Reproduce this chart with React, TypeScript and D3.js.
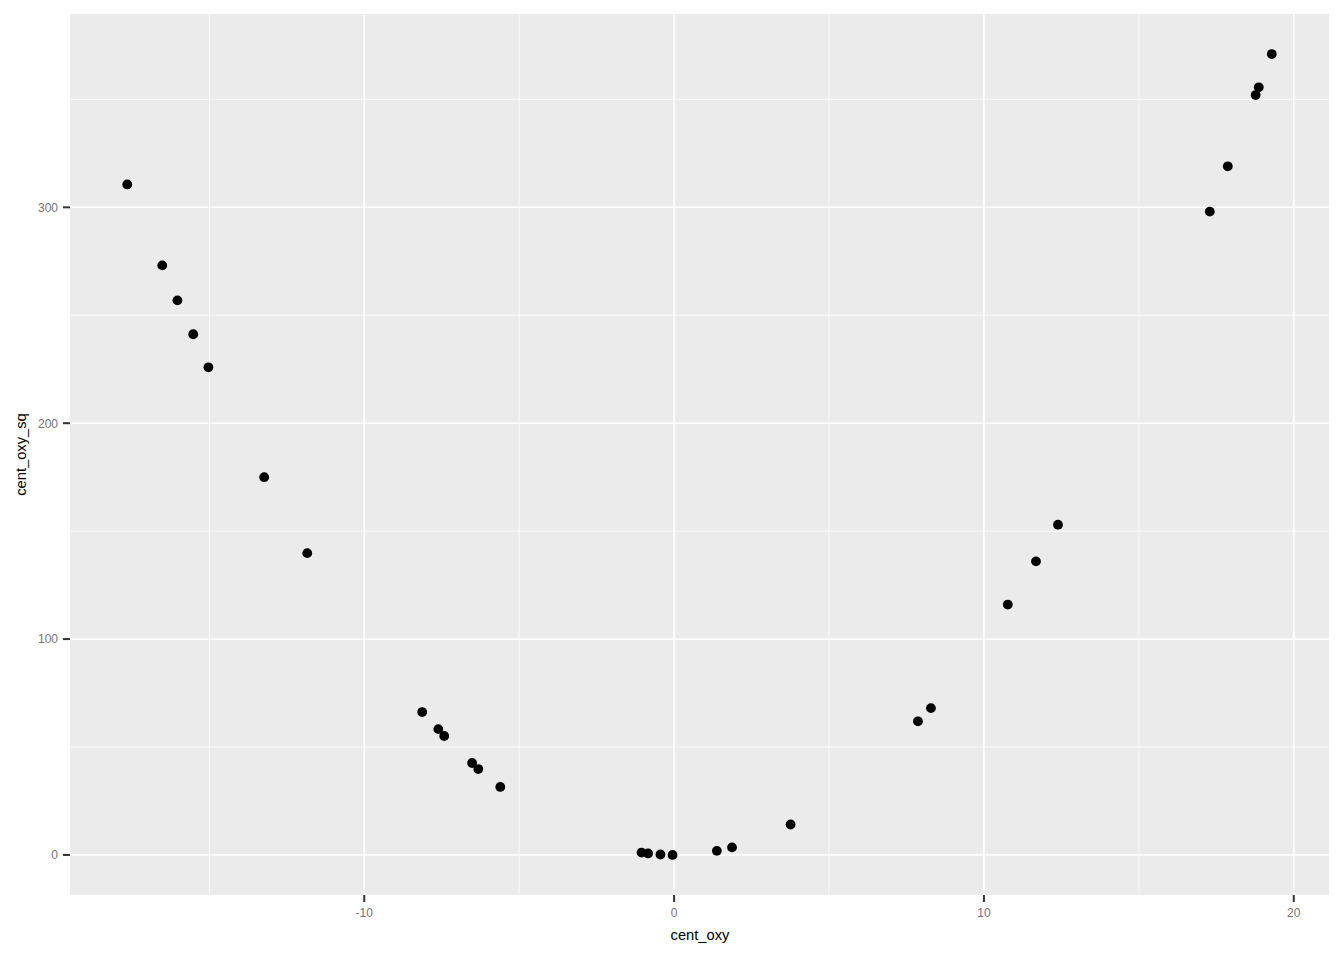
import React from "react";
import * as d3 from "d3";

const centOxy: number[] = [
  -17.65, -16.52, -16.03, -15.52, -15.03, -13.23, -11.84, -8.13, -7.61, -7.42,
  -6.52, -6.32, -5.61, -1.05, -0.84, -0.44, -0.05, 1.38, 1.87, 3.76,
  7.87, 8.29, 10.77, 11.68, 12.39, 17.29, 17.87, 18.77, 18.87, 19.29,
];
const centOxySq: number[] = [
  310.6, 273.1, 256.9, 241.2, 225.9, 175.0, 139.8, 66.2, 58.3, 55.1,
  42.6, 39.8, 31.5, 1.1, 0.7, 0.2, 0.0, 1.9, 3.5, 14.1,
  61.9, 68.0, 116.0, 136.0, 153.0, 298.0, 319.0, 352.0, 355.6, 371.0,
];
const xTicks: number[] = [-10, 0, 10, 20];
const xMinor: number[] = [-15, -5, 5, 15];
const yTicks: number[] = [0, 100, 200, 300];
const yMinor: number[] = [50, 150, 250, 350];

const W = 1344;
const H = 960;
const left = 70;
const right = 1329;
const top = 14;
const bottom = 895;

export default function App() {
  const xExt = d3.extent(centOxy) as [number, number];
  const yExt = d3.extent(centOxySq) as [number, number];
  const xPad = (xExt[1] - xExt[0]) * 0.05;
  const yPad = (yExt[1] - yExt[0]) * 0.05;
  const x = d3.scaleLinear().domain([xExt[0] - xPad, xExt[1] + xPad]).range([left, right]);
  const y = d3.scaleLinear().domain([yExt[0] - yPad, yExt[1] + yPad]).range([bottom, top]);
  const font = "'Liberation Sans', Arial, sans-serif";
  return (
    <svg width={W} height={H} style={{ position: "absolute", left: 0, top: 0 }} fontFamily={font}>
      <rect x={0} y={0} width={W} height={H} fill="#ffffff" />
      <rect x={left} y={top} width={right - left} height={bottom - top} fill="#EBEBEB" />
      {xMinor.map((t) => (
        <line key={"xm" + t} x1={x(t)} x2={x(t)} y1={top} y2={bottom} stroke="#fff" strokeWidth={0.8} />
      ))}
      {yMinor.map((t) => (
        <line key={"ym" + t} x1={left} x2={right} y1={y(t)} y2={y(t)} stroke="#fff" strokeWidth={0.8} />
      ))}
      {xTicks.map((t) => (
        <line key={"xM" + t} x1={x(t)} x2={x(t)} y1={top} y2={bottom} stroke="#fff" strokeWidth={1.6} />
      ))}
      {yTicks.map((t) => (
        <line key={"yM" + t} x1={left} x2={right} y1={y(t)} y2={y(t)} stroke="#fff" strokeWidth={1.6} />
      ))}
      {centOxy.map((v, i) => (
        <circle key={"p" + i} cx={x(v)} cy={y(centOxySq[i])} r={4.9} fill="#000" />
      ))}
      {xTicks.map((t) => (
        <g key={"xt" + t}>
          <line x1={x(t)} x2={x(t)} y1={bottom} y2={bottom + 7} stroke="#333" strokeWidth={2} />
          <text x={x(t)} y={bottom + 21.5} textAnchor="middle" fontSize={12} fill="#737373">
            {t}
          </text>
        </g>
      ))}
      {yTicks.map((t) => (
        <g key={"yt" + t}>
          <line x1={left - 7} x2={left} y1={y(t)} y2={y(t)} stroke="#333" strokeWidth={2} />
          <text x={left - 12} y={y(t) + 4.4} textAnchor="end" fontSize={12} fill="#737373">
            {t}
          </text>
        </g>
      ))}
      <text x={700} y={940} textAnchor="middle" fontSize={14.7} fill="#000">
        cent_oxy
      </text>
      <text
        transform={`translate(26, ${(top + bottom) / 2}) rotate(-90)`}
        textAnchor="middle"
        fontSize={14.7}
        fill="#000"
      >
        cent_oxy_sq
      </text>
    </svg>
  );
}
